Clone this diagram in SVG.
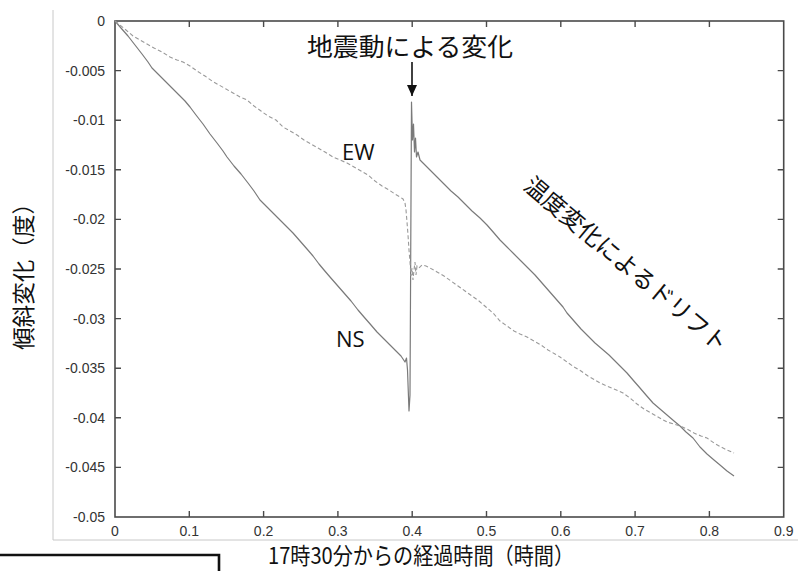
<svg xmlns="http://www.w3.org/2000/svg" width="798" height="571" viewBox="0 0 798 571">
<style>
.frame{fill:none;stroke:#c8c8c8;stroke-width:1}
.axis{fill:none;stroke:#4a4a4a;stroke-width:1.6}
.tick{stroke:#4a4a4a;stroke-width:1.4}
.tl{font-family:"Liberation Sans",Arial,sans-serif;font-size:14px;fill:#333}
.jp{font-family:"Noto Sans CJK JP","Noto Sans",sans-serif;fill:#111}
.lat{font-family:"Open Sans","Liberation Sans",sans-serif;font-size:22px;fill:#111}
.ns{fill:none;stroke:#7a7a7a;stroke-width:1.2;stroke-linejoin:round}
.ew{fill:none;stroke:#9a9a9a;stroke-width:1.1;stroke-dasharray:4 2.5}
</style>
<defs>
<marker id="ah" markerWidth="11" markerHeight="10" refX="11" refY="5" orient="auto" markerUnits="userSpaceOnUse" viewBox="0 0 11 10">
<path d="M0,0 L11,5 L0,10 Z" fill="#111"/>
</marker>
</defs>
<rect width="798" height="571" fill="#fff"/>
<g id="figure-frame">
<path class="frame" d="M53,10 V540 H798"/>
</g>
<g id="corner-box">
<path d="M0,555 H219 V571" fill="none" stroke="#111" stroke-width="2.6"/>
</g>
<g id="axes">
<rect class="axis" x="115" y="21" width="668.7" height="496"/>
<g id="xticks">
<path class="tick" d="M189.3,517v-6M263.6,517v-6M337.9,517v-6M412.2,517v-6M486.5,517v-6M560.8,517v-6M635.1,517v-6M709.4,517v-6M189.3,21v6M263.6,21v6M337.9,21v6M412.2,21v6M486.5,21v6M560.8,21v6M635.1,21v6M709.4,21v6"/>
</g>
<g id="yticks">
<path class="tick" d="M115,70.6h6M115,120.2h6M115,169.8h6M115,219.4h6M115,269h6M115,318.6h6M115,368.2h6M115,417.8h6M115,467.4h6M783.7,70.6h-6M783.7,120.2h-6M783.7,169.8h-6M783.7,219.4h-6M783.7,269h-6M783.7,318.6h-6M783.7,368.2h-6M783.7,417.8h-6M783.7,467.4h-6"/>
</g>
<g id="xlabels" class="tl" text-anchor="middle">
<text x="115" y="536">0</text>
<text x="189.3" y="536">0.1</text>
<text x="263.6" y="536">0.2</text>
<text x="337.9" y="536">0.3</text>
<text x="412.2" y="536">0.4</text>
<text x="486.5" y="536">0.5</text>
<text x="560.8" y="536">0.6</text>
<text x="635.1" y="536">0.7</text>
<text x="709.4" y="536">0.8</text>
<text x="783.7" y="536">0.9</text>
</g>
<g id="ylabels" class="tl" text-anchor="end">
<text x="105" y="26">0</text>
<text x="105" y="75.6">-0.005</text>
<text x="105" y="125.2">-0.01</text>
<text x="105" y="174.8">-0.015</text>
<text x="105" y="224.4">-0.02</text>
<text x="105" y="274">-0.025</text>
<text x="105" y="323.6">-0.03</text>
<text x="105" y="373.2">-0.035</text>
<text x="105" y="422.8">-0.04</text>
<text x="105" y="472.4">-0.045</text>
<text x="105" y="522">-0.05</text>
</g>
</g>
<g id="series">
<polyline id="ns-curve" class="ns" points="115,21 121,28 128,36 135,45 142,54 148,62 152,68 158,74 165,81 172,88 179,95 185,101 190,107 196,115 203,124 210,134 217,143 223,151 227,157 234,166 241,174 248,183 254,191 260,200 267,207 274,214 281,221 287,227 293,233 300,241 307,249 313,256 319,264 324,270 330,277 337,285 344,293 351,301 358,310 364,317 371,325 377,332 384,339 390,345 396,351 401,356 405,362 406.5,358 407.5,370 409,411 410,395 411.5,102 412.5,140 413.5,124 414.5,152 415.5,138 416.5,157 418,152 420,160 423,163 430,170 437,177 444,184 451,191 458,197 465,204 472,211 480,218 487,225 494,233 500,240 507,247 514,254 521,261 528,268 535,275 542,283 549,291 556,299 563,307 567,313 574,321 581,329 588,336 595,343 602,349 609,355 614,360 620,366 627,373 633,380 640,388 646,395 653,403 660,409 667,415 674,421 680,426 686,432 693,438 700,447 707,454 714,460 720,465 727,471 734,476"/>
<polyline id="ew-curve" class="ew" points="115,21 120,25 126,30 133,36 140,40 147,44 154,48 162,52 170,57 177,60 183,62 190,66 197,71 205,76 212,81 219,85 226,89 233,93 240,97 247,100 254,106 261,111 268,116 276,120 283,127 290,131 297,135 304,140 311,144 318,148 325,152 333,157 340,160 347,163 354,167 361,171 368,175 375,181 382,186 389,190 395,194 400,197 403,199 405,203 406,210 407,222 408,235 409,250 410,262 411,276 412,268 413,280 414,270 415,262 416,275 417,266 419,268 422,265 426,266 430,268 437,272 444,276 451,281 458,286 465,291 472,296 479,301 486,307 493,313 500,321 507,326 514,331 520,334 527,337 534,341 541,345 548,350 555,354 560,357 567,362 574,367 581,371 588,376 595,380 600,383 607,386 614,389 623,393 630,398 637,404 644,409 651,413 658,417 667,422 674,424 680,426 687,429 694,433 701,436 707,438 714,443 721,447 727,450 734,453"/>
</g>
<g id="connectors">
<line x1="412" y1="62" x2="412" y2="96" stroke="#111" stroke-width="1.6" marker-end="url(#ah)"/>
</g>
<g id="label-quake">
<text class="jp" x="410" y="56" font-size="25" text-anchor="middle" textLength="206" lengthAdjust="spacingAndGlyphs">地震動による変化</text>
</g>
<g id="label-ew">
<text class="lat" x="342" y="160">EW</text>
</g>
<g id="label-ns">
<text class="lat" x="336" y="347">NS</text>
</g>
<g id="label-drift">
<text class="jp" font-size="23.5" text-anchor="middle" dominant-baseline="central" transform="translate(627,263) rotate(40)" textLength="257" lengthAdjust="spacingAndGlyphs">温度変化によるドリフト</text>
</g>
<g id="label-yaxis">
<text class="jp" font-size="23" text-anchor="middle" dominant-baseline="central" transform="translate(22,271) rotate(-90)" textLength="158" lengthAdjust="spacingAndGlyphs">傾斜変化（度）</text>
</g>
<g id="label-xaxis">
<text class="jp" x="421" y="564" font-size="22.5" text-anchor="middle" textLength="306" lengthAdjust="spacingAndGlyphs">17時30分からの経過時間（時間）</text>
</g>
</svg>
